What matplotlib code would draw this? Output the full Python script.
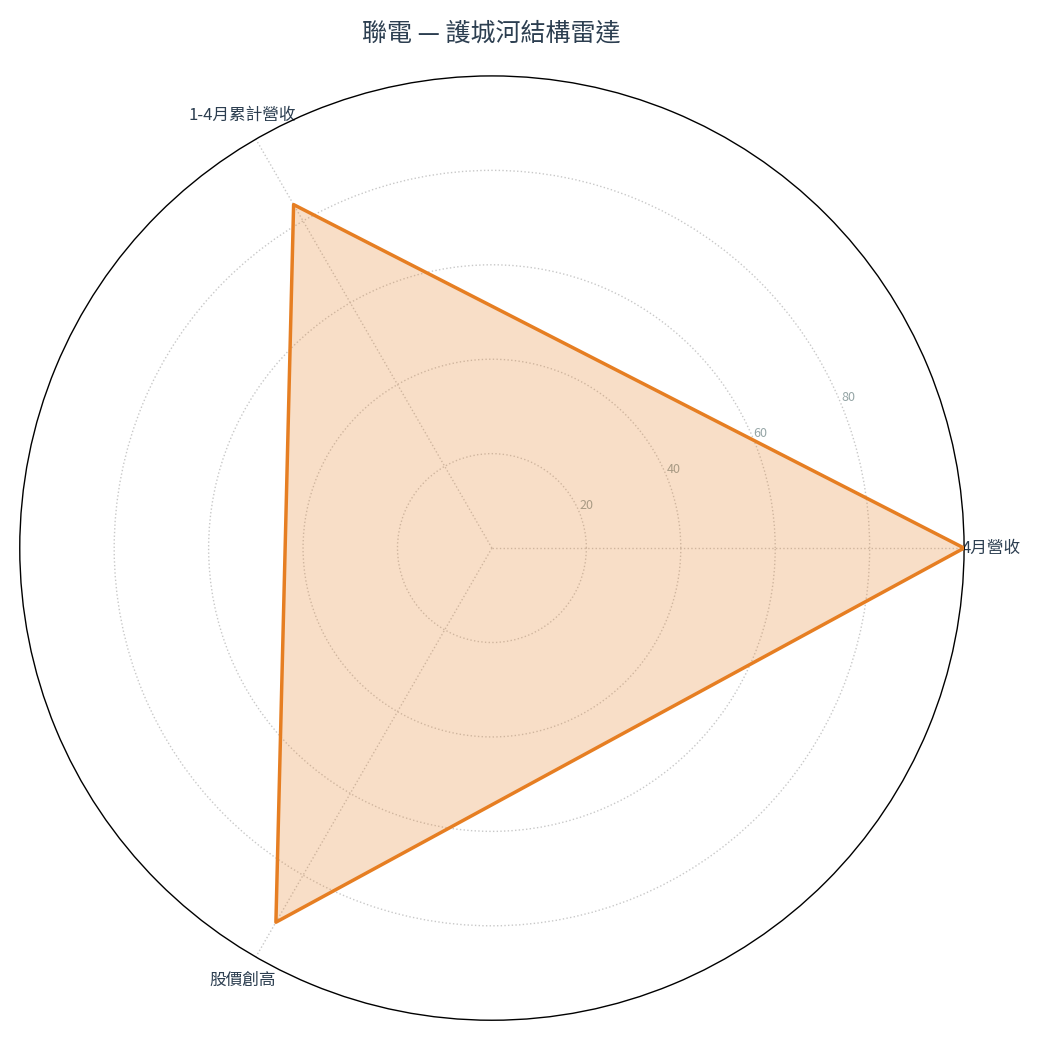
import numpy as np
import matplotlib
matplotlib.use("Agg")
import matplotlib.pyplot as plt

plt.rcParams['font.family'] = ['Noto Sans CJK TC', 'DejaVu Sans']

title = "聯電 — 護城河結構雷達"
categories = ["4月營收", "1-4月累計營收", "股價創高"]
values = [100, 84, 91.5]
r_ticks = [20, 40, 60, 80]
r_max = 100

line_color = "#e67e22"
text_color = "#2c3e50"
tick_color = "#95a5a6"

fig = plt.figure(figsize=(10.4, 10.4), dpi=100)
ax = fig.add_axes([0.019, 0.019, 0.908, 0.908], projection='polar')

n = len(categories)
angles = np.linspace(0, 2 * np.pi, n, endpoint=False).tolist()
vals = list(values) + [values[0]]
angs = angles + [angles[0]]

ax.plot(angs, vals, color=line_color, linewidth=2.5, zorder=3)
ax.fill(angs, vals, color=line_color, alpha=0.25, zorder=2)

ax.set_ylim(0, r_max)
ax.set_yticks(r_ticks)
ax.set_yticklabels([str(t) for t in r_ticks], color=tick_color, fontsize=9)
ax.set_rlabel_position(22.5)
ax.set_xticks(angles)
ax.set_xticklabels(categories, color=text_color, fontsize=12)
ax.tick_params(axis='x', pad=9)
ax.grid(True, color="#c8c8c8", linestyle=':', linewidth=1)
ax.spines['polar'].set_color('black')
ax.spines['polar'].set_linewidth(1)

fig.text(0.4725, 1 - 33 / 1040, title, ha='center', va='center',
         fontsize=18, color=text_color, fontweight='normal')

fig.savefig("out.png", dpi=100)
